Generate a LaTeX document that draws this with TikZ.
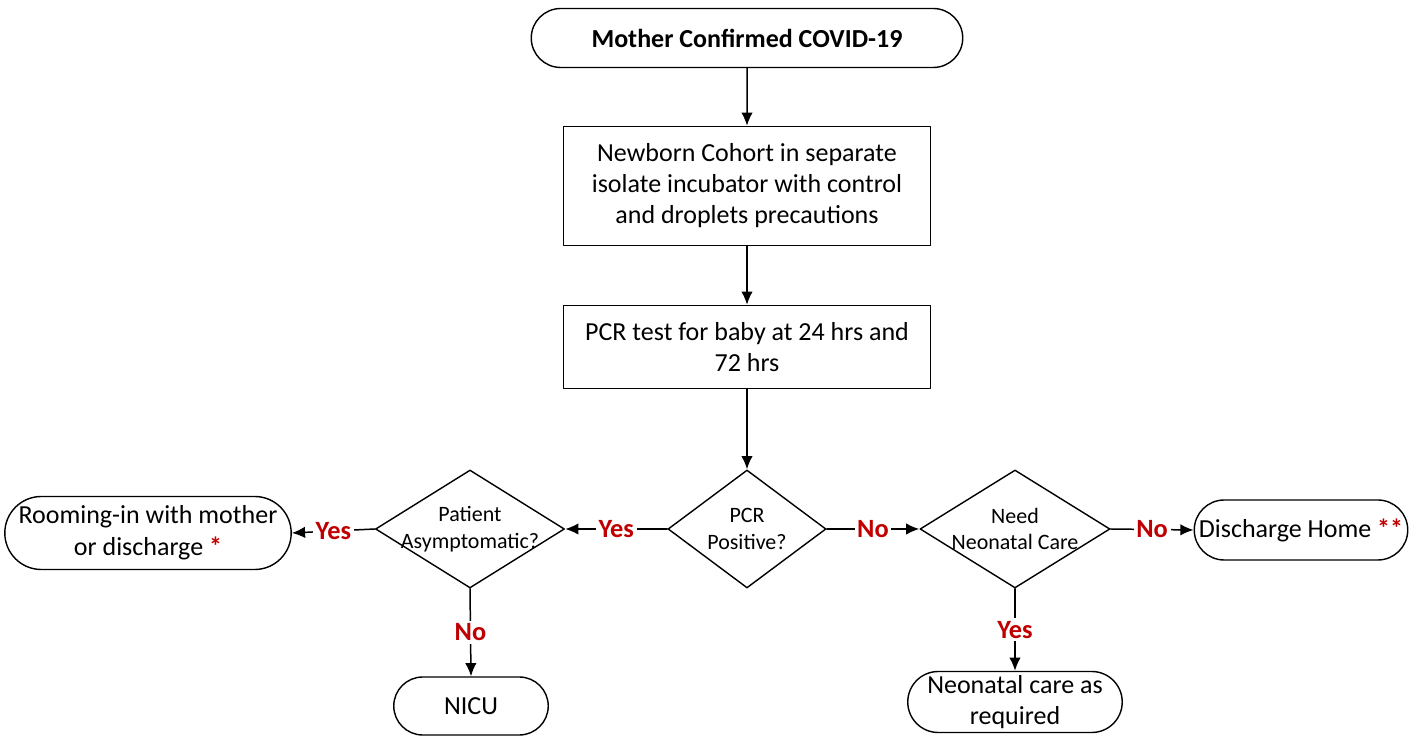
\documentclass[tikz,border=0pt]{standalone}
\usepackage{fontspec}
\setmainfont{Carlito}
\usepackage{xcolor}
\usetikzlibrary{arrows.meta,shapes.geometric,shapes.misc}
\definecolor{answerred}{HTML}{C00000}

\begin{document}
\begin{tikzpicture}[
  line cap=round,
  line join=round,
  >={Latex[length=7.5pt,width=6.5pt]},
  flowline/.style={black,line width=0.85pt,->},
  process/.style={draw=black,line width=0.8pt,rectangle,align=center,
    minimum width=7.34cm,font=\fontsize{14.8}{17.6}\selectfont},
  terminal/.style={draw=black,line width=0.8pt,rounded rectangle,align=center,
    inner sep=1pt,font=\fontsize{14.8}{18}\selectfont},
  decision/.style={draw=black,line width=0.8pt,diamond,align=center,aspect=1.6,
    inner xsep=-0.3cm,inner ysep=-0.3cm,minimum height=2.36cm,
    font=\fontsize{12.5}{15.3}\selectfont},
  answer/.style={fill=white,text=answerred,inner sep=1.5pt,
    font=\fontsize{15}{18}\selectfont\bfseries}
]
\useasboundingbox (0,0) rectangle (28.42,14.72);

\node[terminal,minimum width=8.7cm,minimum height=1.18cm,font=\fontsize{14.8}{17.6}\selectfont\bfseries]
  (mother) at (14.94,13.96) {Mother Confirmed COVID-19};
\node[process,minimum height=2.38cm] (cohort) at (14.94,11.0)
  {Newborn Cohort in separate\\isolate incubator with control\\and droplets precautions};
\node[process,minimum height=1.66cm] (pcrtest) at (14.94,7.78)
  {PCR test for baby at 24 hrs and\\72 hrs};

\node[decision,minimum width=3.16cm] (pcrpos) at (14.94,4.14) {PCR\\Positive?};
\node[decision,minimum width=3.78cm] (asympt) at (9.40,4.14) {Patient\\Asymptomatic?};
\node[decision,minimum width=3.80cm] (needcare) at (20.30,4.14) {Need\\Neonatal Care};

\node[terminal,minimum width=5.6cm,minimum height=1.46cm] (rooming) at (2.96,4.06)
  {Rooming-in with mother\\or discharge {\color{answerred}\bfseries*}};
\node[terminal,minimum width=4.34cm,minimum height=1.2cm] (discharge) at (26.02,4.12)
  {Discharge Home {\color{answerred}\bfseries**}};
\node[terminal,minimum width=3.16cm,minimum height=1.16cm] (nicu) at (9.42,0.60) {NICU};
\node[terminal,minimum width=4.36cm,minimum height=1.22cm] (neocare) at (20.30,0.68)
  {Neonatal care as\\required};

\draw[flowline] (mother) -- (cohort);
\draw[flowline] (cohort) -- (pcrtest);
\draw[flowline] (pcrtest) -- (pcrpos);

\draw[flowline] (pcrpos.west) -- node[answer] {Yes} (asympt.east);
\draw[flowline] (asympt.west) -- node[answer] {Yes} (rooming.east);
\draw[flowline] (asympt.south) -- node[answer] {No} (nicu.north);
\draw[flowline] (pcrpos.east) -- node[answer] {No} (needcare.west);
\draw[flowline] (needcare.east) -- node[answer] {No} (discharge.west);
\draw[flowline] (needcare.south) -- node[answer] {Yes} (neocare.north);
\end{tikzpicture}
\end{document}
